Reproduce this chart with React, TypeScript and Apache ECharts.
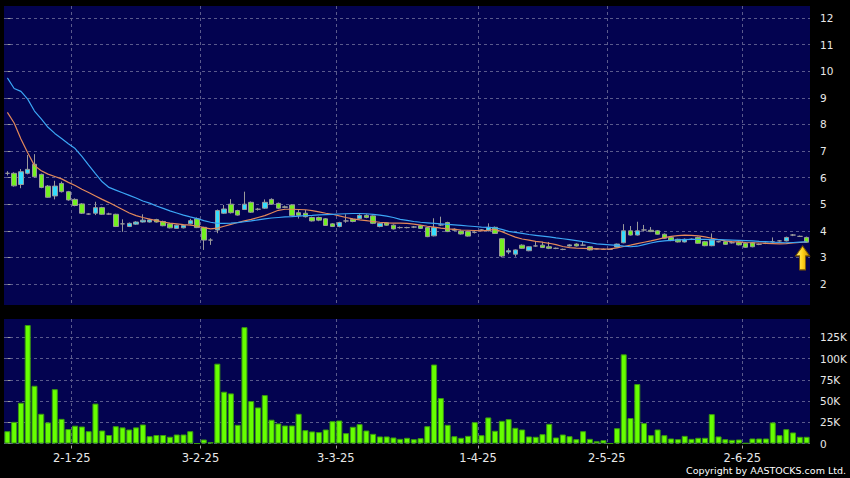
import React, { useEffect, useRef } from "react";
import * as echarts from "echarts";

// [open, close, low, high] per trading day
const ohlc: number[][] = [
  [6.16,6.16,6.08,6.24],[6.16,5.69,5.66,6.20],[5.74,6.22,5.60,6.32],[6.16,6.31,6.12,6.85],[6.50,6.03,6.00,6.88],
  [6.12,5.63,5.60,6.15],[5.68,5.26,5.24,5.72],[5.31,5.68,5.18,5.88],[5.78,5.47,5.44,5.85],[5.47,5.16,5.13,5.50],
  [5.18,4.95,4.92,5.22],[5.01,4.66,4.63,5.04],[4.63,4.63,4.60,4.66],[4.66,4.87,4.59,5.09],[4.87,4.62,4.60,4.90],
  [4.63,4.63,4.60,4.68],[4.62,4.16,4.14,4.64],[4.26,4.26,3.96,4.43],[4.16,4.28,4.14,4.31],[4.25,4.33,4.22,4.36],
  [4.33,4.40,4.31,4.62],[4.33,4.41,4.31,4.45],[4.42,4.33,4.31,4.45],[4.35,4.19,4.17,4.38],[4.26,4.11,4.09,4.28],
  [4.09,4.21,4.07,4.23],[4.11,4.20,4.09,4.22],[4.26,4.38,4.24,4.45],[4.45,4.12,4.10,4.50],[4.13,3.65,3.28,4.15],
  [3.65,3.65,3.47,3.72],[4.03,4.76,3.91,4.80],[4.66,4.82,4.63,4.97],[5.00,4.68,4.65,5.19],[4.76,4.59,4.57,4.79],
  [4.80,5.00,4.78,5.47],[5.07,4.70,4.67,5.10],[4.81,4.81,4.76,4.86],[4.85,5.07,4.82,5.18],[5.18,5.00,4.97,5.22],
  [5.03,4.85,4.82,5.06],[4.90,4.88,4.85,4.95],[4.97,4.57,4.54,5.00],[4.68,4.58,4.46,4.78],[4.66,4.53,4.50,4.78],
  [4.50,4.37,4.35,4.53],[4.50,4.40,4.36,4.53],[4.45,4.20,4.18,4.48],[4.26,4.16,4.14,4.29],[4.16,4.31,4.13,4.34],
  [4.37,4.37,4.30,4.62],[4.43,4.35,4.32,4.46],[4.46,4.58,4.43,4.62],[4.58,4.50,4.47,4.62],[4.56,4.28,4.25,4.58],
  [4.16,4.28,4.13,4.30],[4.30,4.21,4.19,4.32],[4.21,4.07,4.05,4.24],[4.12,4.12,4.08,4.16],[4.12,4.12,4.09,4.15],
  [4.14,4.14,4.10,4.18],[4.19,4.09,4.07,4.22],[4.12,3.78,3.76,4.15],[3.81,4.12,3.79,4.47],[4.22,4.22,4.18,4.53],
  [4.31,3.97,3.95,4.34],[4.06,4.02,3.99,4.09],[3.99,3.88,3.86,4.02],[3.97,3.80,3.78,4.00],[3.94,3.94,3.90,3.98],
  [4.03,4.03,3.99,4.06],[4.00,4.13,3.98,4.28],[4.13,3.90,3.88,4.16],[3.70,3.05,3.00,3.72],[3.20,3.25,3.12,3.34],
  [3.12,3.28,3.03,3.30],[3.46,3.34,3.32,3.49],[3.25,3.40,3.23,3.42],[3.43,3.43,3.40,3.59],[3.46,3.37,3.35,3.59],
  [3.40,3.34,3.31,3.58],[3.34,3.34,3.31,3.37],[3.30,3.30,3.27,3.33],[3.43,3.47,3.41,3.50],[3.50,3.43,3.41,3.53],
  [3.46,3.46,3.43,3.59],[3.40,3.28,3.26,3.43],[3.32,3.32,3.30,3.34],[3.30,3.30,3.28,3.33],[3.30,3.30,3.28,3.32],
  [3.39,3.50,3.37,3.52],[3.55,4.00,3.53,4.25],[4.00,3.84,3.82,4.18],[3.84,4.00,3.82,4.34],[4.03,4.03,3.97,4.22],
  [4.02,3.97,3.95,4.14],[4.00,3.87,3.85,4.03],[3.87,3.72,3.70,3.90],[3.75,3.63,3.61,3.78],[3.68,3.58,3.56,3.70],
  [3.58,3.68,3.56,3.71],[3.68,3.68,3.65,3.71],[3.75,3.53,3.51,3.78],[3.59,3.44,3.42,3.62],[3.44,3.65,3.42,3.90],
  [3.59,3.59,3.56,3.62],[3.59,3.49,3.47,3.62],[3.55,3.55,3.52,3.58],[3.57,3.47,3.45,3.60],[3.53,3.38,3.36,3.56],
  [3.55,3.40,3.38,3.58],[3.49,3.49,3.46,3.52],[3.53,3.53,3.50,3.56],[3.59,3.59,3.55,3.75],[3.62,3.62,3.59,3.65],
  [3.62,3.75,3.60,3.78],[3.84,3.84,3.80,3.88],[3.79,3.79,3.77,3.82],[3.75,3.57,3.55,3.78],
];

// volume in thousands of shares
const volumeK: number[] = [
  14.5,25.5,48,139.5,68,35,24.8,64,29,17,
  21,20,14.5,47,15.3,10,20.4,19,16.5,19,
  22.4,8.6,10,10,8,10.6,10.6,14.5,0,4.7,
  1.5,94,61,59,22,137,50,42.5,57,28,
  23.6,21.2,21.2,35,15.7,14.2,13.4,16.5,26.3,27.1,
  12.2,19.7,22.8,15.3,11.4,8.3,8.3,7.1,5.5,6.7,
  5.1,6.3,20.4,93,53.5,22,8.6,6.7,9,25.2,
  9.8,30.7,15,26.7,28.7,18.5,16.5,8.3,7.9,11,
  23.2,7.1,10.6,8.6,5.1,14.5,5.5,2.7,3.9,0,
  18,105,30,70,24,9.8,16.5,9.8,5.9,5.1,
  9,5.5,6.7,6.7,34.6,8.3,5.1,4.3,4.7,0.4,
  5.9,5.9,5.9,24.8,9.8,16.9,13,7.9,7.9,
];

const maBlue: number[] = [
  9.75,9.35,9.24,8.95,8.50,8.21,7.89,7.66,7.47,7.27,
  7.09,6.80,6.47,6.15,5.84,5.63,5.53,5.43,5.33,5.23,
  5.12,5.04,4.93,4.84,4.75,4.67,4.59,4.52,4.46,4.38,
  4.32,4.28,4.28,4.29,4.31,4.34,4.37,4.41,4.45,4.48,
  4.50,4.52,4.53,4.55,4.57,4.58,4.60,4.61,4.62,4.63,
  4.64,4.65,4.65,4.64,4.62,4.59,4.55,4.50,4.43,4.39,
  4.35,4.32,4.30,4.28,4.26,4.24,4.22,4.20,4.18,4.16,
  4.14,4.13,4.11,4.05,3.98,3.94,3.90,3.86,3.83,3.80,
  3.77,3.73,3.70,3.67,3.63,3.59,3.55,3.51,3.49,3.47,
  3.45,3.42,3.40,3.42,3.48,3.54,3.59,3.62,3.64,3.66,
  3.67,3.68,3.68,3.68,3.67,3.67,3.66,3.65,3.64,3.63,
  3.62,3.60,3.59,3.57,3.56,3.55,3.56,3.57,3.58,
];

const maOrange: number[] = [
  8.45,8.05,7.45,6.93,6.45,6.26,6.13,6.04,5.95,5.82,
  5.70,5.56,5.44,5.31,5.18,5.06,4.93,4.80,4.67,4.57,
  4.50,4.44,4.38,4.33,4.29,4.26,4.23,4.21,4.18,4.12,
  4.07,4.10,4.17,4.24,4.31,4.37,4.43,4.50,4.57,4.67,
  4.77,4.81,4.81,4.80,4.79,4.76,4.71,4.66,4.62,4.56,
  4.50,4.45,4.41,4.38,4.35,4.32,4.30,4.29,4.29,4.28,
  4.25,4.21,4.17,4.14,4.10,4.07,4.05,4.03,4.02,4.01,
  4.00,4.02,4.05,3.97,3.86,3.76,3.69,3.65,3.60,3.57,
  3.53,3.48,3.41,3.37,3.35,3.34,3.33,3.32,3.31,3.32,
  3.36,3.41,3.46,3.52,3.57,3.62,3.68,3.74,3.79,3.82,
  3.84,3.83,3.81,3.77,3.72,3.67,3.62,3.59,3.58,3.56,
  3.55,3.54,3.53,3.52,3.51,3.52,3.54,3.56,3.58,
];

// first trading day of each month (index into the day list) and its label
const tickIndex: number[] = [9, 28, 48, 69, 88, 108];
const tickLabels: string[] = ["2-1-25", "3-2-25", "3-3-25", "1-4-25", "2-5-25", "2-6-25"];
const priceTicks: number[] = [2, 3, 4, 5, 6, 7, 8, 9, 10, 11, 12];
const volumeTicks: number[] = [0, 25, 50, 75, 100, 125];
const arrowValue = 2.98;

const BG = "#030350";
const GRIDLINE = "#5a5a8c";
const TXT = "#e8e8e8";
const FONT = "DejaVu Sans";

export default function App() {
  const ref = useRef<HTMLDivElement>(null);
  useEffect(() => {
    if (!ref.current) return;
    const chart = echarts.init(ref.current, null, { renderer: "svg" });
    const n = ohlc.length;
    const categories = ohlc.map((_, i) => String(i));
    const boundaries = tickIndex.map((i) => i + 0.5);

    const catAxis = (gridIndex: number) => ({
      type: "category" as const,
      gridIndex,
      data: categories,
      boundaryGap: true,
      axisLine: { show: false },
      axisTick: { show: false },
      axisLabel: { show: false },
      splitLine: { show: false },
    });
    const gridAxis = (gridIndex: number, labels: boolean) => ({
      type: "value" as const,
      gridIndex,
      min: -0.5,
      max: n - 0.5,
      position: "bottom" as const,
      offset: 2,
      axisLine: { show: false },
      axisTick: {
        show: labels,
        length: 3,
        customValues: boundaries,
        lineStyle: { color: "#a0a0a0", width: 1 },
      },
      axisLabel: {
        show: labels,
        customValues: boundaries,
        margin: 6,
        color: TXT,
        fontFamily: FONT,
        fontSize: 11.5,
        formatter: (v: number) => {
          const k = boundaries.findIndex((b) => Math.abs(b - v) < 1e-6);
          return k >= 0 ? tickLabels[k] : "";
        },
      },
      splitLine: { show: true, lineStyle: { color: GRIDLINE, type: [3, 3], width: 1 } },
    });

    chart.setOption({
      animation: false,
      backgroundColor: "#000000",
      grid: [
        { left: 4, width: 806, top: 6, height: 299, show: true, backgroundColor: BG, borderWidth: 0, outerBoundsMode: "none" },
        { left: 4, width: 806, top: 319, height: 124.5, show: true, backgroundColor: BG, borderWidth: 0, outerBoundsMode: "none" },
      ],
      xAxis: [catAxis(0), catAxis(1), gridAxis(0, false), gridAxis(1, true)],
      yAxis: [
        {
          type: "value",
          gridIndex: 0,
          position: "right",
          offset: 3,
          min: 1.21,
          max: 12.45,
          axisLine: { show: false },
          axisTick: { show: true, length: 3, customValues: priceTicks, lineStyle: { color: "#a0a0a0" } },
          axisLabel: { customValues: priceTicks, margin: 7, color: TXT, fontFamily: FONT, fontSize: 10.5 },
          splitLine: { show: true, lineStyle: { color: GRIDLINE, type: [3, 3], width: 1 } },
        },
        {
          type: "value",
          gridIndex: 1,
          position: "right",
          offset: 3,
          min: 0,
          max: 146.6,
          axisLine: { show: false },
          axisTick: { show: true, length: 3, customValues: volumeTicks, lineStyle: { color: "#a0a0a0" } },
          axisLabel: {
            customValues: volumeTicks,
            margin: 7,
            color: TXT,
            fontFamily: FONT,
            fontSize: 10.5,
            formatter: (v: number) => (v === 0 ? "0" : v + "K"),
          },
          splitLine: { show: true, lineStyle: { color: GRIDLINE, type: [3, 3], width: 1 } },
        },
      ],
      series: [
        {
          type: "candlestick",
          xAxisIndex: 0,
          yAxisIndex: 0,
          data: ohlc,
          barWidth: 5,
          itemStyle: {
            color: "#33ddff",
            color0: "#72f020",
            borderColor: "#9a9a9a",
            borderColor0: "#9a9a9a",
            borderWidth: 1,
          },
          markPoint: {
            silent: true,
            animation: false,
            label: { show: false },
            data: [
              {
                coord: [n - 1, arrowValue],
                symbol: "path://M7,0 L14,10 L10,10 L10,24 L4,24 L4,10 L0,10 Z",
                symbolSize: [14, 24],
                symbolOffset: [-4, 0],
                itemStyle: {
                  color: new echarts.graphic.LinearGradient(0, 0, 1, 0, [
                    { offset: 0, color: "#fff48a" },
                    { offset: 0.5, color: "#ffd21a" },
                    { offset: 1, color: "#c98a00" },
                  ]),
                  borderColor: "#7a5600",
                  borderWidth: 1,
                },
              },
            ],
          },
        },
        {
          type: "line",
          xAxisIndex: 0,
          yAxisIndex: 0,
          data: maOrange,
          symbol: "none",
          lineStyle: { color: "#e3895a", width: 1.2 },
        },
        {
          type: "line",
          xAxisIndex: 0,
          yAxisIndex: 0,
          data: maBlue,
          symbol: "none",
          lineStyle: { color: "#3ba6f5", width: 1.2 },
        },
        {
          type: "bar",
          xAxisIndex: 1,
          yAxisIndex: 1,
          data: volumeK,
          barWidth: 6,
          itemStyle: { color: "#66ff00", borderColor: "#3a9a10", borderWidth: 1 },
        },
      ],
      graphic: [
        {
          type: "text",
          right: 4,
          top: 465,
          style: { text: "Copyright by AASTOCKS.com Ltd.", fill: "#ffffff", font: `9.5px '${FONT}'` },
        },
      ],
    });
    return () => chart.dispose();
  }, []);
  return (
    <div
      ref={ref}
      style={{ position: "absolute", left: 0, top: 0, width: 850, height: 478, background: "#000" }}
    />
  );
}
